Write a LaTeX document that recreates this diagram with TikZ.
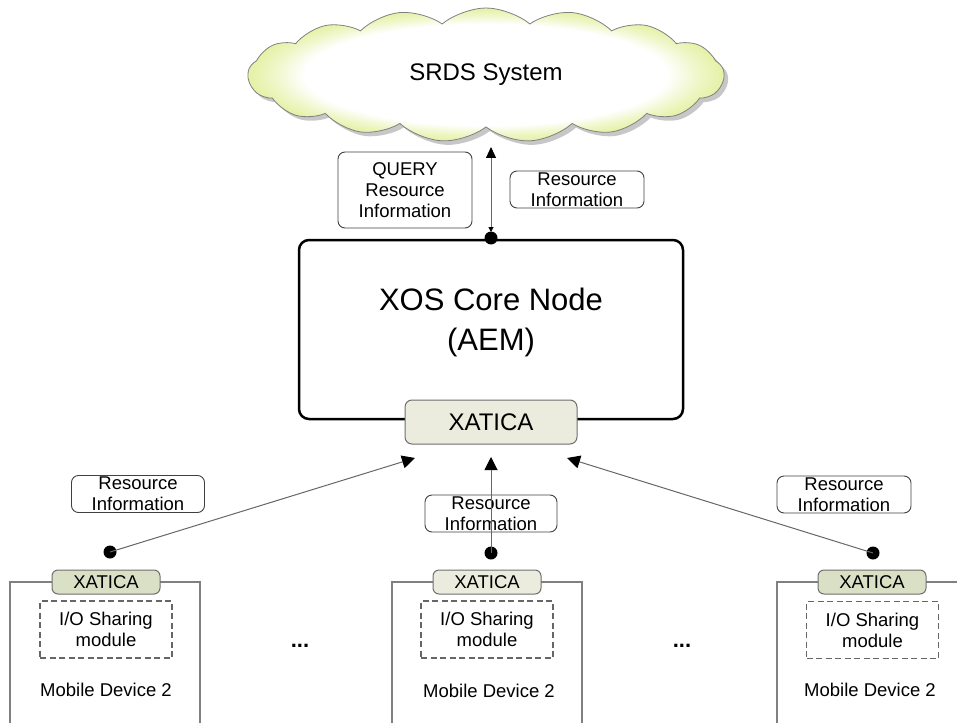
\documentclass[tikz,border=0pt]{standalone}
\usepackage{fontspec}
\setmainfont{Liberation Sans}
\usetikzlibrary{shapes.symbols,shadows,arrows.meta}

\definecolor{ringgreen}{RGB}{230,242,170}
\definecolor{xbeige}{RGB}{236,236,222}
\definecolor{xgreen}{RGB}{218,224,198}
\definecolor{edgegray}{RGB}{110,110,110}

% white centre fading into a yellow-green rim
\pgfdeclareradialshading{cloudglow}{\pgfpointorigin}{color(0bp)=(white); color(19bp)=(white); color(22bp)=(ringgreen!60!white); color(24.5bp)=(ringgreen); color(50bp)=(ringgreen)}

\newcommand\labfont{\fontsize{18.5}{21}\selectfont}

\begin{document}
\begin{tikzpicture}[x=1pt,y=-1pt,
  infobox/.style={draw=black!75, line width=0.9pt, rounded corners=7pt, align=center,
    inner sep=0pt, font=\labfont, minimum width=134pt, minimum height=37pt},
  dotnode/.style={circle, fill=black, inner sep=0pt, minimum size=13pt},
  feed/.style={draw=black!60, line width=1pt, -{Triangle[length=13pt,width=13pt,color=black]}},
  devline/.style={draw=black!50, line width=1.4pt},
  xsmall/.style={draw=edgegray, line width=1pt, rounded corners=6pt, minimum width=108pt,
    minimum height=24pt, inner sep=0pt, font=\labfont},
  modbox/.style={draw=black!60, dashed, dash pattern=on 6pt off 3.5pt, line width=1.1pt,
    minimum width=132pt, minimum height=57pt, align=center, font=\labfont, inner sep=0pt},
  devtext/.style={font=\labfont, inner sep=0pt}
]
\useasboundingbox (0,0) rectangle (957,722);

% ---- cloud ----
\node (cloud) [cloud, cloud puffs=17, cloud puff arc=80, aspect=3.6,
  minimum width=476pt, minimum height=134pt, inner sep=0pt,
  draw=black!50, line width=0.8pt, shading=cloudglow,
  drop shadow={shadow xshift=4pt, shadow yshift=-4pt, fill=black!40, opacity=0.55},
  font=\fontsize{24}{28}\selectfont] at (486,75) {SRDS System};

% ---- core node ----
\node (xos) [draw=black, line width=2.5pt, rounded corners=10pt,
  minimum width=384pt, minimum height=179pt] at (491,329.5) {};
\node (xostext) [align=center, font=\fontsize{31}{40}\selectfont] at (491,322)
  {XOS Core Node\\(AEM)};
\node (xat) [draw=edgegray, line width=1pt, fill=xbeige, rounded corners=7pt,
  minimum width=172pt, minimum height=44pt, inner sep=0pt,
  font=\fontsize{24}{28}\selectfont] at (491,422) {XATICA};

% ---- labels around the core ----
\node (qlab) [infobox, minimum height=76pt] at (405,190) {QUERY\\Resource\\Information};
\node (rtop) [infobox] at (577,189.5) {Resource\\Information};
\node (rL) [infobox, minimum width=133pt] at (138,494) {Resource\\Information};
\node (rC) [infobox, minimum width=132pt] at (491,513.5) {Resource\\Information};
\node (rR) [infobox] at (844,494.5) {Resource\\Information};

% ---- mobile devices ----
\draw[devline] (10,730) -- (10,582) -- (200,582) -- (200,730);
\draw[devline] (392,730) -- (392,582) -- (582,582) -- (582,730);
\draw[devline] (777,730) -- (777,582) -- (965,582);

\node (xL) [xsmall, fill=xgreen] at (106,582) {XATICA};
\node (xC) [xsmall, fill=xbeige] at (487,582) {XATICA};
\node (xR) [xsmall, fill=xgreen] at (872,582) {XATICA};

\node (mL) [modbox] at (106,629.5) {I/O Sharing\\module};
\node (mC) [modbox] at (487,629.5) {I/O Sharing\\module};
\node (mR) [modbox] at (872.5,630) {I/O Sharing\\module};

\node (nL) [devtext] at (106,690) {Mobile Device 2};
\node (nC) [devtext] at (489,691) {Mobile Device 2};
\node (nR) [devtext] at (870,690) {Mobile Device 2};

\node (dots1) [font=\fontsize{22}{24}\selectfont\bfseries] at (300,646) {...};
\node (dots2) [font=\fontsize{22}{24}\selectfont\bfseries] at (682,646) {...};

% ---- connectors ----
\coordinate (cloudfoot) at (491,147);
\coordinate (tipL) at (415,458);
\coordinate (tipC) at (491,457);
\coordinate (tipR) at (567,458);

\node (dTop) [dotnode] at (491,238) {};
\node (dL) [dotnode] at (110,552) {};
\node (dC) [dotnode] at (491,553) {};
\node (dR) [dotnode] at (873,553) {};

\draw[draw=black!60, line width=1pt,
  {Triangle[length=5pt,width=5pt,color=black]}-{Triangle[length=11pt,width=10pt,color=black]},
  shorten <=6pt] (dTop.center) -- (cloudfoot);
\draw[feed] (dL.center) -- (tipL);
\draw[feed] (dC.center) -- (tipC);
\draw[feed] (dR.center) -- (tipR);
\end{tikzpicture}
\end{document}
